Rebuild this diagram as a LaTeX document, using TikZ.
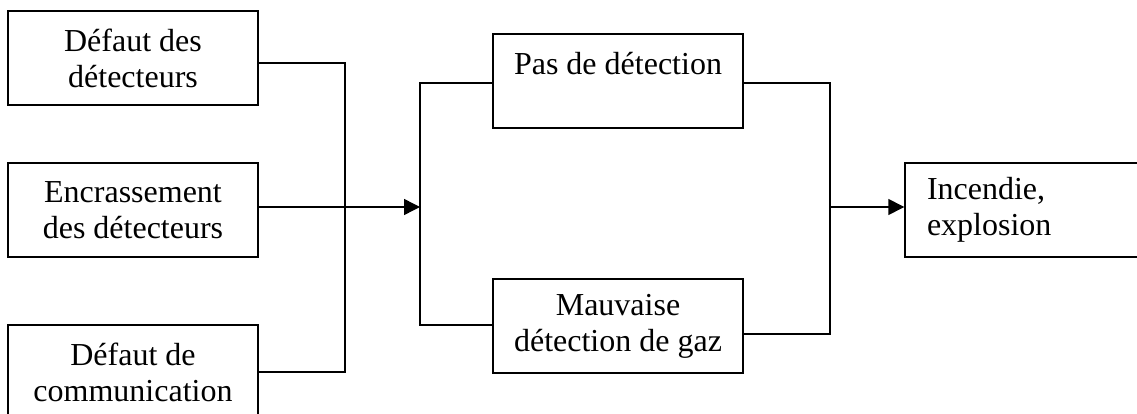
\documentclass[tikz,border=0pt]{standalone}
\usepackage{fontspec}
\setmainfont{Liberation Serif}
\usetikzlibrary{arrows.meta}
\begin{document}
\begin{tikzpicture}[x=1pt,y=-1pt,
  box/.style={draw, line width=1.4pt, minimum width=250pt, minimum height=94pt,
    inner sep=0pt, align=center, font=\fontsize{32}{36}\selectfont},
  lbox/.style={draw, line width=1.4pt, minimum width=240pt, minimum height=94pt,
    inner xsep=22pt, inner ysep=0pt, text width=196pt, align=left,
    font=\fontsize{32}{36}\selectfont},
  wire/.style={line width=1.4pt},
  arr/.style={line width=1.4pt, -{Triangle[length=16pt,width=16pt]}}]
\useasboundingbox (0,0) rectangle (1137,414);
\clip (0,0) rectangle (1137,414);
\node[box] (b1) at (133,58) {Défaut des\\détecteurs};
\node[box] (b2) at (133,210) {Encrassement\\des détecteurs};
\node[box] (b3) at (133,372) {Défaut de\\communication};
\node[box] (p) at (618,81) {Pas de détection\\~};
\node[box] (m) at (618,326) {Mauvaise\\détection de gaz};
\node[lbox] (inc) at (1025,210) {Incendie,\\explosion};
\coordinate (j1) at (345,207);
\coordinate (j2) at (420,207);
\coordinate (j3) at (830,207);
\draw[wire] ([yshift=-5pt]b1.east) -| (j1) |- (b3.east);
\draw[wire] ([yshift=3pt]b2.east) -- (j1);
\draw[arr] (j1) -- (j2);
\draw[wire] ([yshift=-2pt]p.west) -| (j2) |- ([yshift=1pt]m.west);
\draw[wire] ([yshift=-2pt]p.east) -| (j3) |- ([yshift=-8pt]m.east);
\draw[arr] (j3) -- (inc.west |- j3);
\end{tikzpicture}
\end{document}
